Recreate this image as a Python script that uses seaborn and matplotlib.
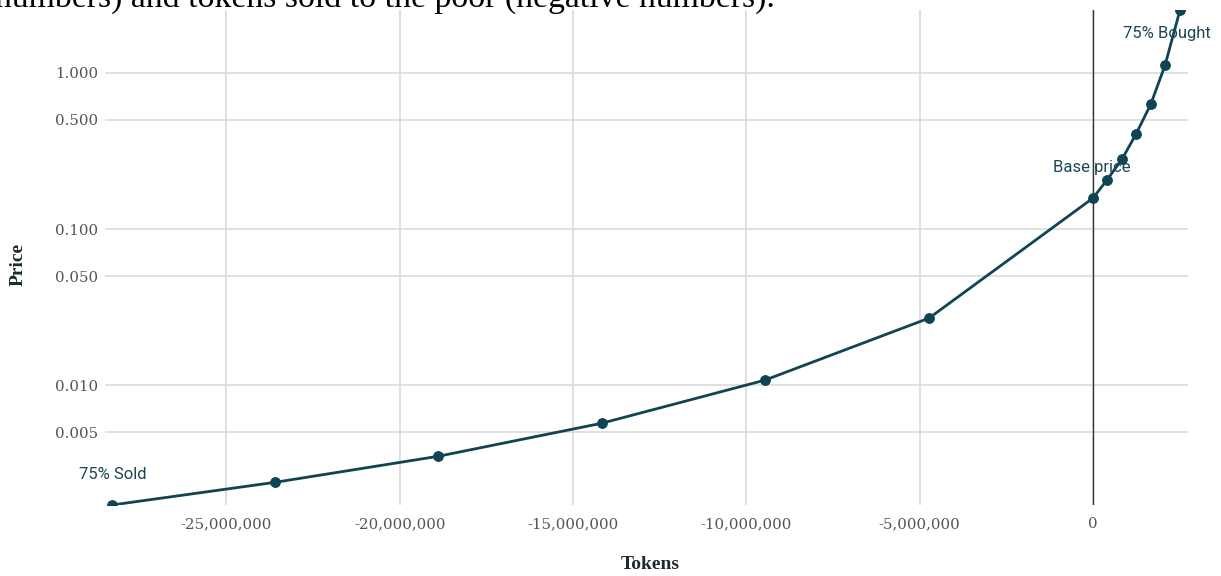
import matplotlib
matplotlib.use("Agg")
import matplotlib.pyplot as plt
import matplotlib.ticker as mticker
import seaborn as sns
import pandas as pd

# values
tokens = [-28.3e6, -23.59e6, -18.88e6, -14.17e6, -9.47e6, -4.73e6, 0,
          0.40e6, 0.84e6, 1.24e6, 1.67e6, 2.08e6, 2.51e6]
price = [0.00171, 0.00239, 0.00351, 0.00571, 0.01077, 0.0269, 0.158,
         0.206, 0.281, 0.406, 0.633, 1.125, 2.53]

x_ticks = [-25e6, -20e6, -15e6, -10e6, -5e6, 0]
y_ticks = [0.005, 0.01, 0.05, 0.1, 0.5, 1.0]

notes = ["75% Sold", "Base price", "75% Bought"]
note_idx = [0, 6, 12]

df = pd.DataFrame({"Tokens": tokens, "Price": price})

sns.set_style("white")
line_col = "#0f4452"

fig = plt.figure(figsize=(12.21, 5.76), dpi=100)
ax = fig.add_axes([105 / 1221, 1 - 505 / 576, 1083 / 1221, 495 / 576])

sns.lineplot(data=df, x="Tokens", y="Price", ax=ax, color=line_col,
             linewidth=2.0, marker="o", markersize=7,
             markeredgecolor=line_col, sort=False)

ax.set_yscale("log")
ax.set_xlim(-28.5e6, 2.74e6)
ax.set_ylim(0.00171, 2.53)

ax.set_yticks(y_ticks)
ax.yaxis.set_minor_locator(mticker.NullLocator())
ax.yaxis.set_major_formatter(mticker.FuncFormatter(lambda v, p: f"{v:.3f}"))
ax.set_xticks(x_ticks)
ax.xaxis.set_major_formatter(mticker.FuncFormatter(lambda v, p: f"{v:,.0f}"))

ax.grid(True, color="#dadada", linewidth=1.2)
ax.axvline(0, color="#333333", linewidth=1.0, zorder=1)
for s in ax.spines.values():
    s.set_visible(False)

ax.tick_params(axis="both", length=0, labelcolor="#555555")
ax.tick_params(axis="y", pad=5)
ax.tick_params(axis="x", pad=9)
for lab in ax.get_xticklabels() + ax.get_yticklabels():
    lab.set_fontfamily("DejaVu Serif")
    lab.set_fontsize(10.8)

ax.set_xlabel("Tokens", fontfamily="Liberation Serif", fontweight="bold",
              fontsize=14, color="#1c2b30", va="center")
ax.set_ylabel("Price", fontfamily="Liberation Serif", fontweight="bold",
              fontsize=14, color="#1c2b30", va="center")
ax.xaxis.set_label_coords(0.503, -0.121)
ax.yaxis.set_label_coords(-0.080, 0.485)

# annotations
offsets = [(-24, 22), (-29, 22), (-41, -17)]
for i, t, off in zip(note_idx, notes, offsets):
    ax.annotate(t, (tokens[i], price[i]), xytext=off, textcoords="offset points",
                fontfamily="Roboto", fontsize=12, color="#1a4855",
                ha="left", va="center")

# caption cut off at the top of the screenshot
fig.text(-0.004, 1 - 7 / 576, "numbers) and tokens sold to the poor (negative numbers).",
         fontfamily="Liberation Serif", fontsize=24.3, color="black",
         ha="left", va="baseline")

fig.savefig("out.png", dpi=100)
